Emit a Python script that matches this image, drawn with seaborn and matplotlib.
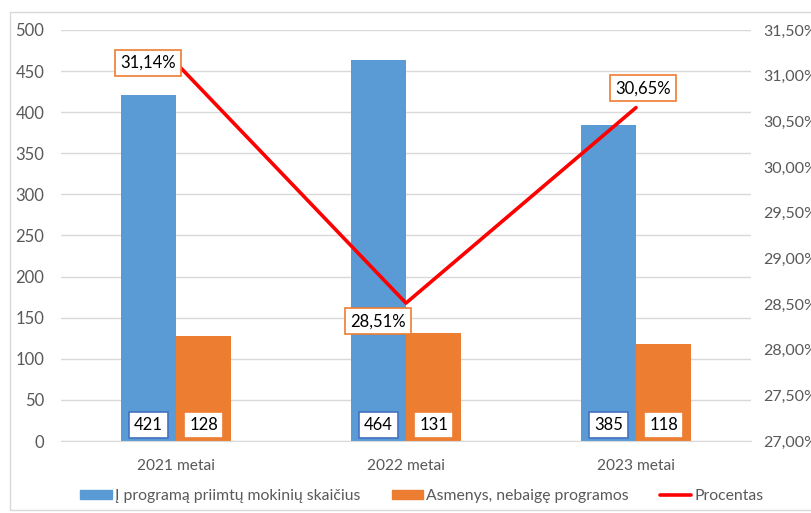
import pandas as pd
import matplotlib.pyplot as plt
import matplotlib.patches as mpatches
from matplotlib.lines import Line2D
from matplotlib.ticker import FuncFormatter, MultipleLocator
import seaborn as sns

years = ["2021 metai", "2022 metai", "2023 metai"]
priimta = [421, 464, 385]
nebaige = [128, 131, 118]
procentas = [31.14, 28.51, 30.65]

lbl_priimta = "Į programą priimtų mokinių skaičius"
lbl_nebaige = "Asmenys, nebaigę programos"
lbl_proc = "Procentas"

blue = "#5B9BD5"
orange = "#ED7D31"
red = "#FF0000"
grid = "#D9D9D9"
txt = "#595959"
fs = 12

sns.set_style("white")
plt.rcParams["font.family"] = ["Lato", "DejaVu Sans"]

df = pd.DataFrame({
    "metai": years * 2,
    "kiekis": priimta + nebaige,
    "serija": [lbl_priimta] * 3 + [lbl_nebaige] * 3,
})

fig = plt.figure(figsize=(8.12, 5.13), dpi=100)
ax = fig.add_axes([61 / 812, 1 - 441 / 513, 690 / 812, 411 / 513])

sns.barplot(data=df, x="metai", y="kiekis", hue="serija",
            palette=[blue, orange], width=0.48, gap=0, saturation=1,
            linewidth=0, ax=ax, legend=False)
ax.set_xlim(-0.5, 2.5)
ax.set_ylim(0, 500)
ax.yaxis.set_major_locator(MultipleLocator(50))
ax.set_xlabel("")
ax.set_ylabel("")
ax.grid(axis="y", color=grid, lw=1)
ax.set_axisbelow(True)
for s in ["top", "right", "left"]:
    ax.spines[s].set_visible(False)
ax.spines["bottom"].set_color(grid)
ax.tick_params(axis="both", length=0, labelsize=fs, labelcolor=txt)
ax.tick_params(axis="y", pad=12)
ax.tick_params(axis="x", pad=13, labelsize=11.2)

# data labels at bar bases
for cont, col in zip(ax.containers, ["#4472C4", orange]):
    for p in cont:
        ax.text(p.get_x() + p.get_width() / 2, 20, f"{int(p.get_height())}",
                ha="center", va="center", fontsize=fs, color="black",
                bbox=dict(boxstyle="square,pad=0.3", fc="white", ec=col, lw=1.2))

ax2 = ax.twinx()
sns.lineplot(x=years, y=procentas, color=red, lw=2.6, ax=ax2)
ax2.set_ylim(27, 31.5)
ax2.yaxis.set_major_locator(MultipleLocator(0.5))
ax2.yaxis.set_major_formatter(FuncFormatter(lambda v, _: f"{v:.2f}%".replace(".", ",")))
for s in ["top", "right", "left", "bottom"]:
    ax2.spines[s].set_visible(False)
ax2.tick_params(axis="y", length=0, labelsize=11.5, labelcolor=txt, pad=9)

offsets = [(-20, 0), (-20, -13), (5, 14)]
for i, (v, off) in enumerate(zip(procentas, offsets)):
    ax2.annotate(f"{v:.2f}%".replace(".", ","), (i, v), xytext=off,
                 textcoords="offset points", ha="center", va="center",
                 fontsize=fs, color="black",
                 bbox=dict(boxstyle="square,pad=0.3", fc="white", ec=orange, lw=1.2))

handles = [mpatches.Patch(color=blue, label=lbl_priimta),
           mpatches.Patch(color=orange, label=lbl_nebaige),
           Line2D([], [], color=red, lw=2.6, label=lbl_proc)]
fig.legend(handles=handles, loc="center", bbox_to_anchor=(422 / 812, 1 - 496 / 513),
           ncol=3, frameon=False, fontsize=11.3, labelcolor=txt,
           handlelength=2.0, handleheight=0.5, handletextpad=0.2, columnspacing=2.0)

fig.patches.append(mpatches.Rectangle((10 / 812, 3 / 513), 810 / 812, 498 / 513,
                                      transform=fig.transFigure, fill=False,
                                      ec=grid, lw=1))

fig.savefig("out.png", dpi=100)
